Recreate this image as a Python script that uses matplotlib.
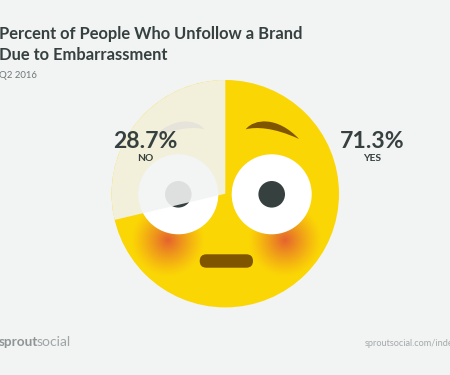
"""Unfollow-due-to-embarrassment pie drawn over a flushed emoji face."""
import numpy as np
import matplotlib
matplotlib.use('Agg')
import matplotlib.pyplot as plt
from matplotlib.patches import Circle, FancyBboxPatch, PathPatch
from matplotlib.path import Path

plt.rcParams['font.family'] = ['Lato', 'DejaVu Sans']

# data
labels = ['YES', 'NO']
values = [71.3, 28.7]
title_lines = ['Percent of People Who Unfollow a Brand', 'Due to Embarrassment']
subtitle = 'Q2 2016'

BG = '#f2f3f3'
YELLOW = '#fbd605'
DARK = '#36413f'
BROWN = '#7f5500'
H = 375
CX, CY, R = 225.3, H - 193.7, 113.7


def brow(x0, flip=1):
    # x0 = inner end of the brow, drawn in pixel coords from the top left
    pts = [(0, 178), (25, 146), (95, 138), (160, 207), (85, 172), (30, 170), (0, 178)]
    verts = [(x0 + flip * x / 3, H - (70 + y / 3)) for x, y in pts]
    codes = [Path.MOVETO, Path.CURVE4, Path.CURVE4, Path.CURVE4,
             Path.CURVE4, Path.CURVE4, Path.CURVE4]
    return Path(verts, codes)


def blush(ax, x, y, r, clip):
    n = 120
    g = np.linspace(-1, 1, n)
    xx, yy = np.meshgrid(g, g)
    d = np.clip(np.sqrt(xx ** 2 + yy ** 2), 0, 1)
    img = np.zeros((n, n, 4))
    img[..., 0] = 229 / 255
    img[..., 1] = 98 / 255
    img[..., 2] = 47 / 255
    img[..., 3] = (1 - d) ** 1.2
    im = ax.imshow(img, extent=(x - r, x + r, y - r, y + r), zorder=2,
                   interpolation='bilinear', aspect='auto')
    im.set_clip_path(clip)


fig = plt.figure(figsize=(4.5, 3.75), dpi=100, facecolor=BG)
ax = fig.add_axes([0, 0, 1, 1])
ax.set_facecolor(BG)

# face
face = Circle((CX, CY), R, fc=YELLOW, ec='none', zorder=1)
ax.add_patch(face)
blush(ax, 168.3, H - 240, 37, face)
blush(ax, 285, H - 240, 37, face)

for ex in (178.3, 271.7):
    ax.add_patch(Circle((ex, H - 194.3), 40, fc='white', ec='none', zorder=3))
    ax.add_patch(Circle((ex, H - 194.3), 13.3, fc=DARK, ec='none', zorder=4))

ax.add_patch(PathPatch(brow(245.7), fc=BROWN, ec='none', zorder=4))
ax.add_patch(PathPatch(brow(204.5, flip=-1), fc=BROWN, ec='none', zorder=4))
ax.add_patch(FancyBboxPatch((199.7, H - 267.7), 53.3, 13.4,
                            boxstyle='round,pad=0,rounding_size=6.7',
                            fc=BROWN, ec='none', zorder=4))

# the pie: YES leaves the face clear, NO veils it
wedges, _ = ax.pie(values, startangle=90, counterclock=False, center=(CX, CY),
                   radius=R, colors=['none', BG], frame=False)
wedges[0].set_visible(False)
wedges[1].set_alpha(0.9)
wedges[1].set_zorder(5)
wedges[1].set_linewidth(0)

ax.set_xlim(0, 450)
ax.set_ylim(0, H)
ax.set_aspect('auto')
ax.axis('off')

# titles
for i, line in enumerate(title_lines):
    ax.text(-1, H - (39.5 + 20.3 * i), line, fontsize=11.9, fontweight='bold',
            color=DARK, ha='left', va='baseline', zorder=6)
ax.text(-1, H - 77.5, subtitle, fontsize=6.9, color='#70787a', ha='left',
        va='baseline', zorder=6)

# value labels
for lab, val, x in zip(labels, values, (372.5, 145)):
    ax.text(x, H - 147.5, f'{val:.1f}%', fontsize=16.6, fontweight='bold',
            color=DARK, ha='center', va='baseline', zorder=6)
    ax.text(x, H - 161, lab, fontsize=7.4, fontweight='bold', color=DARK,
            ha='center', va='baseline', zorder=6)

# footer
ax.text(-1, H - 346.5, 'sprout', fontsize=9.8, fontweight='bold',
        color='#8f9595', ha='left', va='baseline', zorder=6)
ax.text(36.5, H - 346.5, 'social', fontsize=10, fontweight='normal',
        color='#a0a5a5', ha='left', va='baseline', zorder=6)
ax.text(365, H - 346.5, 'sproutsocial.com/index', fontsize=6.6,
        color='#a4a9a9', ha='left', va='baseline', zorder=6)

fig.savefig('out.png', dpi=100, facecolor=BG)
